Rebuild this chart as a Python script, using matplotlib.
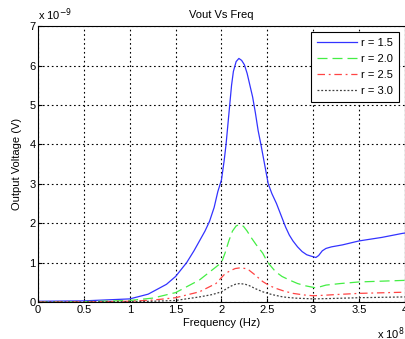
import numpy as np
import matplotlib
matplotlib.use("Agg")
import matplotlib.pyplot as plt

plt.rcParams['font.family'] = ['Liberation Sans', 'DejaVu Sans']

# frequency in units of 1e8 Hz, voltage in units of 1e-9 V
f_15 = [0, 0.5, 1.0, 1.2, 1.4, 1.5, 1.62, 1.7, 1.76, 1.82, 1.87, 1.92, 1.96, 2.0, 2.03,
        2.05, 2.07, 2.09, 2.11, 2.13, 2.16, 2.19, 2.22, 2.25, 2.28, 2.31, 2.34,
        2.37, 2.40, 2.43, 2.47, 2.51, 2.55, 2.6, 2.65, 2.7, 2.74, 2.78, 2.83,
        2.88, 2.93, 2.97, 3.03, 3.06, 3.1, 3.14, 3.2, 3.32, 3.5, 3.75, 3.97, 4.0]
v_15 = [0.02, 0.03, 0.08, 0.2, 0.45, 0.65, 1.0, 1.3, 1.55, 1.8, 2.05, 2.4, 2.8, 3.1, 3.6,
        4.0, 4.5, 5.0, 5.5, 5.85, 6.1, 6.18, 6.13, 6.02, 5.8, 5.5, 5.2,
        4.8, 4.35, 4.0, 3.5, 3.0, 2.75, 2.5, 2.2, 1.9, 1.7, 1.55, 1.4,
        1.28, 1.2, 1.17, 1.13, 1.18, 1.3, 1.36, 1.4, 1.45, 1.55, 1.64, 1.74, 1.75]

f_20 = [0, 0.5, 1.0, 1.25, 1.5, 1.76, 1.94, 2.0, 2.04, 2.08, 2.12, 2.16, 2.2, 2.24,
        2.28, 2.32, 2.38, 2.45, 2.5, 2.55, 2.59, 2.66, 2.74, 2.83, 2.92, 3.03,
        3.08, 3.14, 3.3, 3.5, 4.0]
v_20 = [0.0, 0.01, 0.04, 0.1, 0.24, 0.56, 0.89, 1.0, 1.25, 1.55, 1.8, 1.93, 1.97, 1.92,
        1.8, 1.65, 1.45, 1.24, 1.02, 0.88, 0.77, 0.65, 0.56, 0.47, 0.41, 0.36,
        0.39, 0.43, 0.47, 0.51, 0.55]

f_25 = [0, 0.5, 1.0, 1.25, 1.5, 1.76, 1.94, 2.0, 2.04, 2.1, 2.15, 2.21, 2.26, 2.3,
        2.36, 2.45, 2.52, 2.59, 2.68, 2.78, 2.9, 3.0, 3.1, 3.25, 3.5, 4.0]
v_25 = [0, 0.005, 0.02, 0.05, 0.11, 0.26, 0.47, 0.62, 0.72, 0.8, 0.85, 0.87, 0.85, 0.81,
        0.7, 0.52, 0.42, 0.35, 0.28, 0.22, 0.18, 0.16, 0.17, 0.19, 0.22, 0.25]

f_30 = [0, 0.5, 1.0, 1.25, 1.5, 1.76, 1.9, 2.0, 2.05, 2.1, 2.15, 2.2, 2.26, 2.3,
        2.37, 2.45, 2.55, 2.67, 2.8, 3.0, 3.2, 3.5, 4.0]
v_30 = [0, 0.003, 0.01, 0.02, 0.04, 0.13, 0.19, 0.26, 0.33, 0.4, 0.45, 0.47, 0.45, 0.42,
        0.34, 0.26, 0.19, 0.13, 0.1, 0.08, 0.09, 0.11, 0.13]

xticks = [0, 0.5, 1, 1.5, 2, 2.5, 3, 3.5, 4]
yticks = [0, 1, 2, 3, 4, 5, 6, 7]

fig = plt.figure(figsize=(4.06, 3.39), dpi=100)
ax = fig.add_axes([0.094, 0.109, 0.903, 0.814])

ax.plot(f_15, v_15, color='#3333ff', lw=0.9, label='r = 1.5')
ax.plot(f_20, v_20, color='#44ee44', lw=0.9, ls=(0, (8, 4)), label='r = 2.0')
ax.plot(f_25, v_25, color='#ff4444', lw=0.9, ls=(0, (6, 3, 1.5, 3)), label='r = 2.5')
ax.plot(f_30, v_30, color='#404040', lw=0.9, ls=(0, (1.5, 1.5)), label='r = 3.0')

ax.set_xlim(0, 4)
ax.set_ylim(0, 7)
ax.set_xticks(xticks)
ax.set_xticklabels([('%g' % t) for t in xticks])
ax.set_yticks(yticks)
ax.tick_params(labelsize=8, direction='in', length=3, pad=2)
ax.grid(True, color='black', ls=(0, (1.5, 2.5)), lw=0.8)
for s in ax.spines.values():
    s.set_linewidth(0.8)

ax.set_title('Vout Vs Freq', fontsize=8, pad=6)
ax.set_xlabel('Frequency (Hz)', fontsize=8, labelpad=2)
ax.set_ylabel('Output Voltage (V)', fontsize=8, labelpad=5)
ax.text(0.0, 1.012, 'x 10$^{-9}$', transform=ax.transAxes, fontsize=8,
        ha='left', va='bottom')
ax.text(0.998, -0.085, 'x 10$^{8}$', transform=ax.transAxes, fontsize=8,
        ha='right', va='top')

leg = ax.legend(loc='upper right', fontsize=8, fancybox=False, framealpha=1,
                edgecolor='black', handlelength=3.6, borderpad=0.55,
                labelspacing=0.55, handletextpad=0.4, borderaxespad=0.5)
leg.get_frame().set_linewidth(0.8)

fig.savefig('out.png', dpi=100)
